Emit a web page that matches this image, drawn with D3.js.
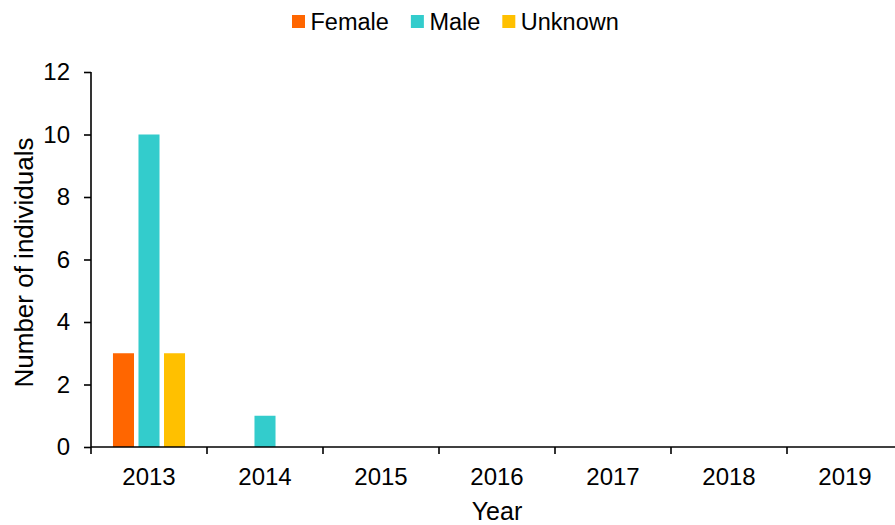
<!DOCTYPE html>
<html>
<head>
<meta charset="utf-8">
<script src="https://cdn.jsdelivr.net/npm/d3@7"></script>
<style>
  body { margin: 0; background: #fff; }
  svg { display: block; font-family: "Liberation Sans", Arial, sans-serif; }
</style>
</head>
<body>
<div id="chart"></div>
<script>
// data
var years = ["2013", "2014", "2015", "2016", "2017", "2018", "2019"];
var female = [3, 0, 0, 0, 0, 0, 0];
var male = [10, 1, 0, 0, 0, 0, 0];
var unknown = [3, 0, 0, 0, 0, 0, 0];
var seriesNames = ["Female", "Male", "Unknown"];
var seriesColors = ["#FF6600", "#33CCCC", "#FFC000"];
var yTicks = [0, 2, 4, 6, 8, 10, 12];

var svgWidth = 895;
var svgHeight = 525;

var margin = { top: 72, right: -8, bottom: 78, left: 91 };
var width = svgWidth - margin.left - margin.right;
var height = svgHeight - margin.top - margin.bottom;

var svg = d3.select("#chart")
  .append("svg")
  .attr("width", svgWidth)
  .attr("height", svgHeight);

var chartGroup = svg.append("g")
  .attr("transform", `translate(${margin.left}, ${margin.top})`);

// build rows for the grouped bars
var rows = years.map(function(y, i) {
  return { year: y, Female: female[i], Male: male[i], Unknown: unknown[i] };
});

var xScale = d3.scaleBand()
  .domain(years)
  .range([0, width])
  .padding(0);

var groupWidth = xScale.bandwidth() * 0.66;
var xSub = d3.scaleBand()
  .domain(seriesNames)
  .range([(xScale.bandwidth() - groupWidth) / 2, (xScale.bandwidth() + groupWidth) / 2])
  .paddingInner(0.176)
  .paddingOuter(0.088);

var yScale = d3.scaleLinear()
  .domain([0, 12])
  .range([height, 0]);

var color = d3.scaleOrdinal().domain(seriesNames).range(seriesColors);

// bars
var groups = chartGroup.selectAll(".year")
  .data(rows)
  .enter()
  .append("g")
  .attr("transform", d => `translate(${xScale(d.year)}, 0)`);

groups.selectAll("rect")
  .data(d => seriesNames.map(k => ({ key: k, value: d[k] })))
  .enter()
  .append("rect")
  .filter(d => d.value > 0)
  .attr("x", d => xSub(d.key))
  .attr("width", xSub.bandwidth())
  .attr("y", d => yScale(d.value))
  .attr("height", d => height - yScale(d.value))
  .attr("fill", d => color(d.key));

// y axis
var leftAxis = d3.axisLeft(yScale)
  .tickValues(yTicks)
  .tickSize(7)
  .tickPadding(14)
  .tickFormat(d3.format("d"));

var yAxis = chartGroup.append("g").call(leftAxis);
yAxis.select(".domain").remove();
yAxis.append("line")
  .attr("x1", 0).attr("x2", 0)
  .attr("y1", 0).attr("y2", height)
  .attr("stroke", "#000")
  .attr("stroke-width", 1.6);
yAxis.selectAll(".tick line").attr("stroke-width", 1.6);
yAxis.selectAll("text")
  .attr("font-size", 24)
  .attr("fill", "#000");

// x axis: labels centred, ticks at category boundaries
var bottomAxis = d3.axisBottom(xScale).tickSize(0).tickPadding(21);
var xAxis = chartGroup.append("g")
  .attr("transform", `translate(0, ${height})`)
  .call(bottomAxis);
xAxis.select(".domain").remove();
xAxis.selectAll("text")
  .attr("font-size", 24)
  .attr("fill", "#000");
xAxis.append("line")
  .attr("x1", 0).attr("x2", width)
  .attr("stroke", "#000")
  .attr("stroke-width", 1.6);
xAxis.selectAll(".edge")
  .data(years.map(y => xScale(y)).concat([width]))
  .enter()
  .append("line")
  .attr("class", "edge")
  .attr("x1", d => d).attr("x2", d => d)
  .attr("y1", 0).attr("y2", 7)
  .attr("stroke", "#000")
  .attr("stroke-width", 1.6);

// axis titles
chartGroup.append("text")
  .attr("x", width / 2)
  .attr("y", height + 73)
  .attr("text-anchor", "middle")
  .attr("font-size", 25)
  .text("Year");

chartGroup.append("text")
  .attr("transform", `translate(${33 - margin.left}, ${height / 2 + 3}) rotate(-90)`)
  .attr("text-anchor", "middle")
  .attr("font-size", 26)
  .text("Number of individuals");

// legend
var legend = svg.append("g").attr("transform", "translate(292, 15)");
var lx = 0;
seriesNames.forEach(function(name) {
  var item = legend.append("g").attr("transform", `translate(${lx}, 0)`);
  item.append("rect")
    .attr("width", 13)
    .attr("height", 13)
    .attr("fill", color(name));
  var t = item.append("text")
    .attr("x", 18.5)
    .attr("y", 14.5)
    .attr("font-size", 23.5)
    .text(name);
  lx += 18.5 + t.node().getComputedTextLength() + 22;
});
</script>
</body>
</html>
